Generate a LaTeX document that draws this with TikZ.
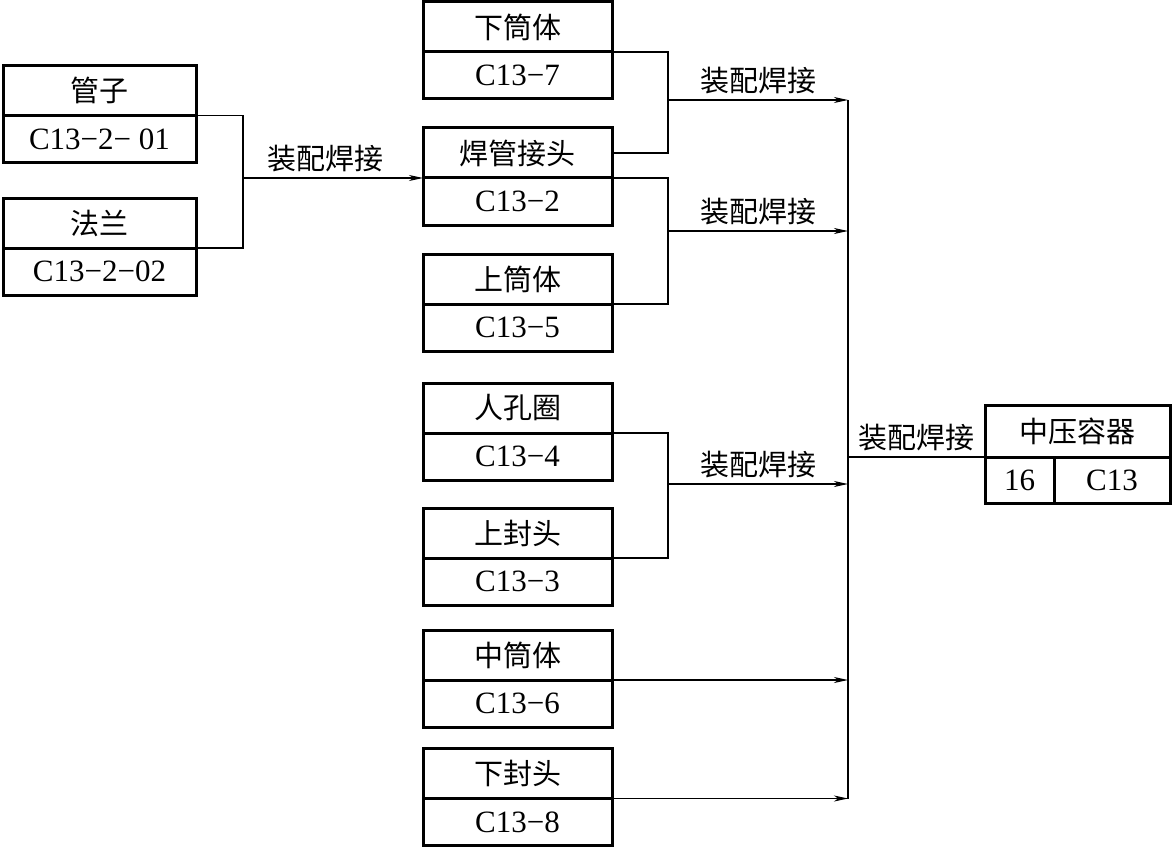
\documentclass[tikz,border=0pt]{standalone}
\usepackage{fontspec}
\setmainfont{Liberation Serif}
\newfontfamily\cjk{Noto Sans CJK SC}
\usetikzlibrary{arrows.meta,positioning}
\tikzset{
  namebox/.style={
    rectangle, draw, line width=3pt, outer sep=0pt, inner sep=0pt,
    minimum width=189pt, minimum height=50pt,
    font=\cjk\fontsize{29}{32}\selectfont
  },
  codebox/.style={
    rectangle, draw, line width=3pt, outer sep=0pt, inner sep=0pt,
    minimum width=189pt, minimum height=47pt,
    font=\fontsize{31}{34}\selectfont
  },
  joinLine/.style={line width=1.2pt},
  joinArrow/.style={-{Stealth[length=14pt,width=6pt,inset=4pt]}, line width=1.2pt},
  stepLabel/.style={above, inner sep=5pt, font=\cjk\fontsize{29}{32}\selectfont}
}
\begin{document}
\begin{tikzpicture}[x=1pt, y=-1pt]
  \useasboundingbox (0,0) rectangle (1173,848);
  % left parts
  \node[namebox, minimum width=193pt] (gz) at (99.5,90.5) {管子};
  \node[codebox, minimum width=193pt, below=0pt of gz] (gz-c) {C13−2− 01};
  \node[namebox, minimum width=193pt] (fl) at (99.5,223) {法兰};
  \node[codebox, minimum width=193pt, below=0pt of fl] (fl-c) {C13−2−02};
  % middle parts
  \node[namebox] (xtt) at (517.5,27) {下筒体};
  \node[codebox, below=0pt of xtt] (xtt-c) {C13−7};
  \node[namebox] (hgjt) at (517.5,153) {焊管接头};
  \node[codebox, below=0pt of hgjt] (hgjt-c) {C13−2};
  \node[namebox] (stt) at (517.5,279) {上筒体};
  \node[codebox, below=0pt of stt] (stt-c) {C13−5};
  \node[namebox] (rkq) at (517.5,408) {人孔圈};
  \node[codebox, below=0pt of rkq] (rkq-c) {C13−4};
  \node[namebox] (sft) at (517.5,533) {上封头};
  \node[codebox, below=0pt of sft] (sft-c) {C13−3};
  \node[namebox] (ztt) at (517.5,655) {中筒体};
  \node[codebox, below=0pt of ztt] (ztt-c) {C13−6};
  \node[namebox] (xft) at (517.5,773.5) {下封头};
  \node[codebox, below=0pt of xft] (xft-c) {C13−8};
  % product
  \node[namebox, minimum width=185pt, minimum height=52pt] (zyrq) at (1077.5,431) {中压容器};
  \node[codebox, minimum width=69pt, minimum height=46pt, anchor=north west] (zyrq-n) at (zyrq.south west) {16};
  \node[codebox, minimum width=116pt, minimum height=46pt, anchor=north west] (zyrq-c) at (zyrq-n.north east) {C13};
  % junctions
  \coordinate (j0) at (243,178);
  \coordinate (j1) at (668,100);
  \coordinate (j2) at (668,231);
  \coordinate (j3) at (668,484);
  \coordinate (bus-top) at (848,100);
  \coordinate (bus-bot) at (xft.south east -| bus-top);
  % connectors
  \draw[joinLine] (gz.south east) -| (j0) |- (fl.south east);
  \draw[joinArrow] (j0) -- (hgjt.south west) node[stepLabel, pos=0.46] {装配焊接};
  \draw[joinLine] (xtt.south east) -| (j1) |- (hgjt.east);
  \draw[joinArrow] (j1) -- (j1 -| bus-top) node[stepLabel, midway] {装配焊接};
  \draw[joinLine] (hgjt.south east) -| (j2) |- (stt.south east);
  \draw[joinArrow] (j2) -- (j2 -| bus-top) node[stepLabel, midway] {装配焊接};
  \draw[joinLine] (rkq.south east) -| (j3) |- (sft.south east);
  \draw[joinArrow] (j3) -- (j3 -| bus-top) node[stepLabel, midway] {装配焊接};
  \draw[joinArrow] (ztt.south east) -- (ztt.south east -| bus-top);
  \draw[joinArrow] (xft.south east) -- (bus-bot);
  \draw[joinLine] (bus-top) -- (bus-bot);
  \draw[joinLine] (zyrq.south west) -- (zyrq.south west -| bus-top) node[stepLabel, midway] {装配焊接};
\end{tikzpicture}
\end{document}
